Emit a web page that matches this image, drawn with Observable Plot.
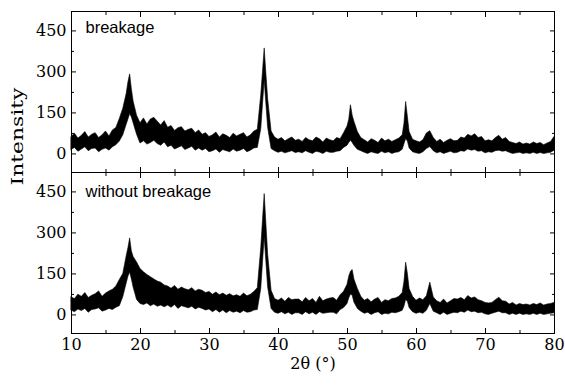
<!DOCTYPE html>
<html>
<head>
<meta charset="utf-8">
<script src="https://cdn.jsdelivr.net/npm/d3@7"></script>
<script src="https://cdn.jsdelivr.net/npm/@observablehq/plot@0.6"></script>
<style>
  html, body { margin: 0; padding: 0; background: #fff; }
</style>
</head>
<body>
<div id="chart"></div>
<script>
// ---- data ----
const panels = ["breakage", "without breakage"];

const twoTheta = [
  10, 10.5, 11, 11.5, 12, 12.5, 13, 13.5, 14, 14.5,
  15, 15.5, 16, 16.5, 17, 17.5, 18, 18.25, 18.5, 18.75,
  19, 19.5, 20, 20.5, 21, 21.5, 22, 22.5, 23, 23.5,
  24, 24.5, 25, 25.5, 26, 26.5, 27, 27.5, 28, 28.5,
  29, 29.5, 30, 30.5, 31, 31.5, 32, 32.5, 33, 33.5,
  34, 34.5, 35, 35.5, 36, 36.5, 37, 37.5, 37.75, 38,
  38.25, 38.5, 39, 39.5, 40, 40.5, 41, 41.5, 42, 42.5,
  43, 43.5, 44, 44.5, 45, 45.5, 46, 46.5, 47, 47.5,
  48, 48.5, 49, 49.5, 50, 50.25, 50.5, 50.75, 51, 51.5,
  52, 52.5, 53, 53.5, 54, 54.5, 55, 55.5, 56, 56.5,
  57, 57.5, 58, 58.25, 58.5, 58.75, 59, 59.5, 60, 60.5,
  61, 61.5, 62, 62.5, 63, 63.5, 64, 64.5, 65, 65.5,
  66, 66.5, 67, 67.5, 68, 68.5, 69, 69.5, 70, 70.5,
  71, 71.5, 72, 72.5, 73, 73.5, 74, 74.5, 75, 75.5,
  76, 76.5, 77, 77.5, 78, 78.5, 79, 79.5, 80
];

// "breakage": lower and upper edge of the noisy trace
const breakageLo = [
  14, 22, 8, 16, 24, 10, 18, 20, 6, 15,
  20, 12, 24, 32, 45, 68, 107, 126, 146, 133,
  112, 70, 38, 46, 34, 40, 48, 36, 30, 42,
  24, 30, 16, 22, 28, 14, 20, 26, 12, 20,
  12, 18, 6, 10, 16, 4, 14, 10, 6, 16,
  8, 12, 18, 6, 12, 20, 22, 90, 180, 270,
  180, 95, 18, 10, 4, 8, 2, 6, 10, 3,
  6, 2, 10, 4, 0, 8, 5, 0, 8, 4,
  4, 8, 10, 22, 30, 40, 48, 40, 30, 15,
  10, 4, 0, 6, 2, 0, 8, 2, 6, 0,
  4, 6, 15, 35, 55, 45, 20, 6, 2, 0,
  6, 18, 25, 10, 2, 6, 0, 4, 8, 2,
  4, 10, 8, 16, 12, 14, 8, 10, 2, 6,
  4, 10, 12, 8, 10, 4, 0, 2, 4, 0,
  2, 0, 4, 0, 3, 0, 2, 4, 12
];
const breakageHi = [
  62, 74, 56, 66, 80, 60, 70, 76, 58, 68,
  82, 64, 86, 95, 128, 165, 220, 262, 291, 236,
  192, 140, 112, 130, 108, 126, 132, 118, 104, 120,
  96, 102, 84, 94, 98, 82, 88, 92, 76, 86,
  70, 76, 62, 68, 78, 60, 72, 66, 58, 74,
  64, 70, 76, 60, 68, 82, 88, 215, 300, 386,
  290, 200, 82, 60, 52, 58, 46, 54, 60, 48,
  52, 44, 58, 50, 46, 60, 54, 42, 56, 50,
  46, 58, 54, 76, 100, 125, 178, 140, 118, 80,
  58, 50, 42, 54, 48, 40, 56, 46, 52, 44,
  50, 56, 68, 110, 190, 135, 80, 52, 46, 42,
  50, 75, 83, 58, 44, 52, 40, 48, 54, 46,
  48, 60, 56, 70, 64, 72, 58, 62, 46, 50,
  46, 58, 66, 52, 58, 44, 40, 36, 42, 34,
  38, 34, 42, 36, 40, 32, 38, 44, 62
];

// "without breakage"
const noBreakageLo = [
  16, 10, 20, 14, 22, 8, 18, 20, 24, 12,
  16, 22, 18, 26, 32, 65, 115, 140, 155, 130,
  100, 55, 40, 36, 42, 32, 38, 30, 34, 28,
  34, 26, 36, 22, 32, 28, 24, 30, 20, 26,
  22, 16, 20, 10, 18, 8, 16, 6, 14, 8,
  12, 6, 14, 8, 10, 16, 18, 95, 190, 285,
  190, 100, 22, 8, 4, 10, 2, 8, 0, 6,
  6, 0, 10, 2, 8, 0, 10, 4, 6, 8,
  8, 2, 18, 25, 40, 60, 75, 70, 45, 22,
  12, 4, 8, 0, 6, 10, 0, 4, 2, 8,
  6, 10, 15, 30, 55, 48, 25, 10, 4, 8,
  4, 15, 40, 12, 6, 0, 8, 0, 4, 8,
  6, 12, 8, 16, 10, 12, 6, 8, 2, 0,
  4, 8, 12, 6, 6, 0, 4, 0, 4, 0,
  2, 0, 4, 0, 4, 0, 2, 4, 6
];
const noBreakageHi = [
  64, 58, 74, 66, 80, 62, 70, 76, 86, 66,
  78, 86, 92, 104, 128, 150, 215, 245, 280, 232,
  212, 192, 168, 156, 146, 138, 130, 122, 118, 108,
  104, 96, 106, 92, 100, 94, 90, 98, 86, 92,
  88, 80, 84, 74, 82, 72, 78, 70, 76, 68,
  72, 66, 78, 68, 74, 84, 98, 245, 345, 442,
  330, 220, 88, 58, 52, 60, 48, 62, 54, 56,
  56, 46, 62, 50, 58, 44, 66, 50, 56, 60,
  62, 52, 72, 85, 110, 140, 158, 164, 130, 95,
  66, 52, 58, 46, 56, 62, 44, 54, 50, 58,
  60, 66, 80, 120, 191, 150, 95, 66, 52, 60,
  54, 68, 118, 64, 50, 44, 56, 42, 50, 58,
  56, 62, 54, 69, 60, 64, 54, 50, 44, 42,
  44, 54, 63, 50, 48, 38, 44, 34, 40, 36,
  38, 34, 40, 36, 42, 34, 38, 40, 44
];

const xMajor = [10, 20, 30, 40, 50, 60, 70, 80];
const xMinor = [15, 25, 35, 45, 55, 65, 75];
const yMajor = [0, 150, 300, 450];
const yMinor = [75, 225, 375];
const xLabel = "2θ (°)";
const yLabel = "Intensity";

// ---- table for the library ----
const rows = [
  ...twoTheta.map((x, i) => ({panel: panels[0], x, lo: breakageLo[i], hi: breakageHi[i]})),
  ...twoTheta.map((x, i) => ({panel: panels[1], x, lo: noBreakageLo[i], hi: noBreakageHi[i]}))
];

const tickOpts = {fill: "none", label: null, facetAnchor: null, stroke: "black"};

const chart = Plot.plot({
  width: 565,
  height: 385,
  marginLeft: 71,
  marginRight: 11,
  marginTop: 10,
  marginBottom: 52,
  style: {fontFamily: "DejaVu Serif", fontSize: "16px", color: "black", background: "white"},
  x: {domain: [10, 80]},
  y: {domain: [-68, 521]},
  fy: {domain: panels, padding: 0, axis: null},
  marks: [
    Plot.areaY(rows, {x: "x", y1: "lo", y2: "hi", fy: "panel", fill: "black", stroke: "black", strokeWidth: 0.6, curve: "linear"}),
    Plot.frame({stroke: "black", strokeWidth: 1}),
    // tick labels
    Plot.axisY({ticks: yMajor, tickSize: 0, tickPadding: 5, label: null, fill: "black"}),
    Plot.axisX({ticks: xMajor, tickSize: 0, tickPadding: 5, fill: "black",
      label: xLabel, labelAnchor: "center", labelArrow: "none", labelOffset: 35}),
    // inward ticks on all sides of both panels
    Plot.axisY({...tickOpts, anchor: "left", ticks: yMajor, tickSize: -5}),
    Plot.axisY({...tickOpts, anchor: "left", ticks: yMinor, tickSize: -3}),
    Plot.axisY({...tickOpts, anchor: "right", ticks: yMajor, tickSize: -5}),
    Plot.axisY({...tickOpts, anchor: "right", ticks: yMinor, tickSize: -3}),
    Plot.axisX({...tickOpts, anchor: "bottom", ticks: xMajor, tickSize: -5}),
    Plot.axisX({...tickOpts, anchor: "bottom", ticks: xMinor, tickSize: -3}),
    Plot.axisX({...tickOpts, anchor: "top", ticks: xMajor, tickSize: -5}),
    Plot.axisX({...tickOpts, anchor: "top", ticks: xMinor, tickSize: -3}),
    // panel labels
    Plot.text([panels[0]], {fy: d => d, text: d => d, frameAnchor: "top-left", textAnchor: "start",
      lineAnchor: "top", dx: 14, dy: 10, fontFamily: "Liberation Sans", fontSize: 16.5, fill: "black"}),
    Plot.text([panels[1]], {fy: d => d, text: d => d, frameAnchor: "top-left", textAnchor: "start",
      lineAnchor: "top", dx: 14, dy: 13, fontFamily: "Liberation Sans", fontSize: 16.5, fill: "black"}),
    // y-axis title, centred on both panels
    Plot.text([yLabel], {facet: "super", text: d => d, frameAnchor: "left", rotate: -90,
      dx: -54, dy: 13, fontSize: 17, fill: "black"})
  ]
});

document.getElementById("chart").appendChild(chart);
d3.select(chart).selectAll("text").filter(function() { return this.textContent === yLabel; })
  .attr("textLength", 98).attr("lengthAdjust", "spacingAndGlyphs");
</script>
</body>
</html>
